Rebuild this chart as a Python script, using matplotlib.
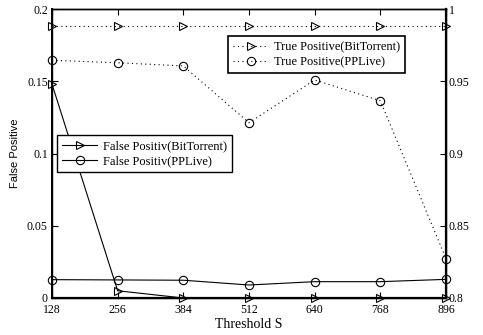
import matplotlib
matplotlib.use("Agg")
import matplotlib.pyplot as plt

# Threshold values on the x axis
thresholds = [128, 256, 384, 512, 640, 768, 896]

# False positive rates (left axis)
fp_bittorrent = [0.148, 0.005, 0.0, 0.0, 0.0, 0.0, 0.0]
fp_pplive = [0.0127, 0.0125, 0.0123, 0.009, 0.0113, 0.0113, 0.0129]

# True positive rates (right axis)
tp_bittorrent = [0.988, 0.988, 0.988, 0.988, 0.988, 0.988, 0.988]
tp_pplive = [0.9645, 0.9628, 0.9606, 0.9213, 0.9509, 0.9365, 0.8272]

left_ticks = [0, 0.05, 0.1, 0.15, 0.2]
left_labels = ["0", "0.05", "0.1", "0.15", "0.2"]
right_ticks = [0.8, 0.85, 0.9, 0.95, 1.0]
right_labels = ["0.8", "0.85", "0.9", "0.95", "1"]

serif = "Liberation Serif"
sans = "Liberation Sans"

fig = plt.figure(figsize=(4.83, 3.35), dpi=100)
ax = fig.add_axes([52 / 483, 1 - 298 / 335, 394 / 483, 289 / 335])
ax2 = ax.twinx()

dotted = (0, (1, 3))
mk = dict(markersize=6, markerfacecolor="none", markeredgecolor="black",
          markeredgewidth=0.8, clip_on=False)

l1, = ax.plot(thresholds, fp_bittorrent, color="black", lw=0.8, marker=">",
              label="False Positiv(BitTorrent)", **mk)
l2, = ax.plot(thresholds, fp_pplive, color="black", lw=0.8, marker="o",
              label="False Positiv(PPLive)", **mk)
l3, = ax2.plot(thresholds, tp_bittorrent, color="black", lw=0.8, ls=dotted,
               marker=">", label="True Positive(BitTorrent)", **mk)
l4, = ax2.plot(thresholds, tp_pplive, color="black", lw=0.8, ls=dotted,
               marker="o", label="True Positive(PPLive)", **mk)

ax.set_xlim(128, 896)
ax.set_ylim(0, 0.2)
ax2.set_ylim(0.8, 1.0)

ax.set_xticks(thresholds)
ax.set_xticklabels([str(t) for t in thresholds], fontfamily=serif, fontsize=8.5)
ax.set_yticks(left_ticks)
ax.set_yticklabels(left_labels, fontfamily=serif, fontsize=8.5)
ax2.set_yticks(right_ticks)
ax2.set_yticklabels(right_labels, fontfamily=serif, fontsize=8.5)

ax.tick_params(axis="x", direction="in", top=True, length=4, width=0.8, pad=4)
ax.tick_params(axis="y", direction="in", length=4, width=0.8, pad=3)
ax2.tick_params(axis="y", direction="in", length=4, width=0.8, pad=2)

for a in (ax, ax2):
    for side in ("top", "bottom", "left", "right"):
        a.spines[side].set_linewidth(1.0)
ax.spines["bottom"].set_linewidth(1.6)
ax2.spines["right"].set_linewidth(1.6)
ax.spines["left"].set_linewidth(1.4)

ax.set_xlabel("Threshold S", fontfamily=serif, fontsize=10, labelpad=2)
ax.set_ylabel("False Positive", fontfamily=sans, fontsize=8, labelpad=5)
ax2.set_ylabel("True Positive", fontfamily=sans, fontsize=8, labelpad=12)

leg_style = dict(loc="upper left", borderaxespad=0,
                 prop={"family": serif, "size": 9}, fancybox=False,
                 edgecolor="black", framealpha=1, handlelength=2.8,
                 handletextpad=0.5, borderpad=0.4, labelspacing=0.25)

leg_tp = ax2.legend(handles=[l3, l4], bbox_to_anchor=(0.447, 0.907),
                    **leg_style)
leg_tp.get_frame().set_linewidth(1.2)

leg_fp = ax2.legend(handles=[l1, l2], bbox_to_anchor=(0.013, 0.564),
                    **leg_style)
leg_fp.get_frame().set_linewidth(1.0)
ax2.add_artist(leg_tp)

fig.savefig("out.png", dpi=100)
